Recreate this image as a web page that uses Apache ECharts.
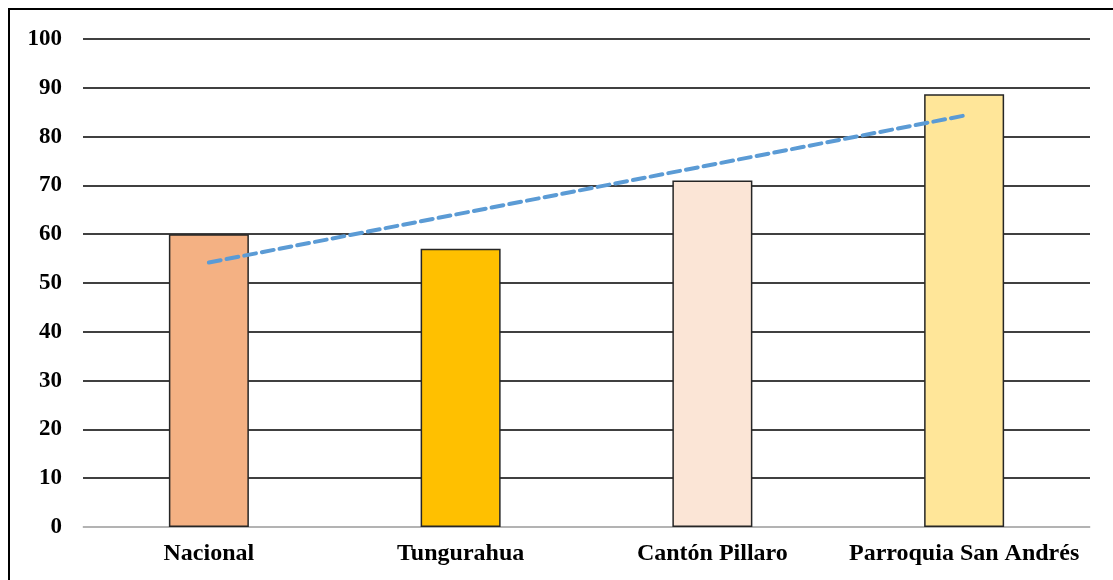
<!DOCTYPE html>
<html>
<head>
<meta charset="utf-8">
<script src="https://cdn.jsdelivr.net/npm/echarts@6/dist/echarts.min.js"></script>
<style>
  html, body { margin: 0; padding: 0; background: #fff; }
  #chart { width: 1113px; height: 580px; }
</style>
</head>
<body>
<div id="chart"></div>
<script>
// Categories and their values (percent)
const categories = ['Nacional', 'Tungurahua', 'Cantón Pillaro', 'Parroquia San Andrés'];
const values = [60, 57, 71, 88.7];
const barColors = ['#F4B183', '#FFC000', '#FBE5D6', '#FFE699'];
// Linear trend line: value at first and last category
const trendValues = [54.2, null, null, 84.3];
const yTicks = [0, 10, 20, 30, 40, 50, 60, 70, 80, 90, 100];

const font = '"Liberation Serif", "Times New Roman", serif';

const chart = echarts.init(document.getElementById('chart'), null, { renderer: 'canvas' });
chart.setOption({
  animation: false,
  backgroundColor: '#fff',
  grid: { left: 83, right: 23, top: 39, bottom: 53 },
  graphic: [{
    type: 'rect',
    shape: { x: 9, y: 9, width: 1200, height: 700 },
    style: { fill: 'none', stroke: '#000', lineWidth: 2 },
    silent: true,
    z: 100
  }],
  xAxis: {
    type: 'category',
    data: categories,
    boundaryGap: true,
    axisTick: { show: false },
    axisLine: { show: true, lineStyle: { color: '#d9d9d9', width: 1.5 } },
    axisLabel: {
      interval: 0,
      margin: 15,
      color: '#000',
      fontFamily: font,
      fontWeight: 'bold',
      fontSize: 24
    }
  },
  yAxis: {
    type: 'value',
    min: yTicks[0],
    max: yTicks[yTicks.length - 1],
    interval: 10,
    axisLine: { show: false },
    axisTick: { show: false },
    splitLine: { lineStyle: { color: '#000', width: 1.5 } },
    axisLabel: {
      margin: 21,
      color: '#000',
      fontFamily: font,
      fontWeight: 'bold',
      fontSize: 23
    }
  },
  series: [
    {
      type: 'bar',
      barWidth: 80,
      data: values.map((v, i) => ({
        value: v,
        itemStyle: { color: barColors[i], borderColor: '#262626', borderWidth: 1.5 }
      })),
      z: 2
    },
    {
      type: 'line',
      data: trendValues,
      connectNulls: true,
      symbol: 'none',
      lineStyle: { color: '#5B9BD5', width: 4, type: [12, 6], cap: 'round' },
      z: 3
    }
  ]
});
</script>
</body>
</html>
